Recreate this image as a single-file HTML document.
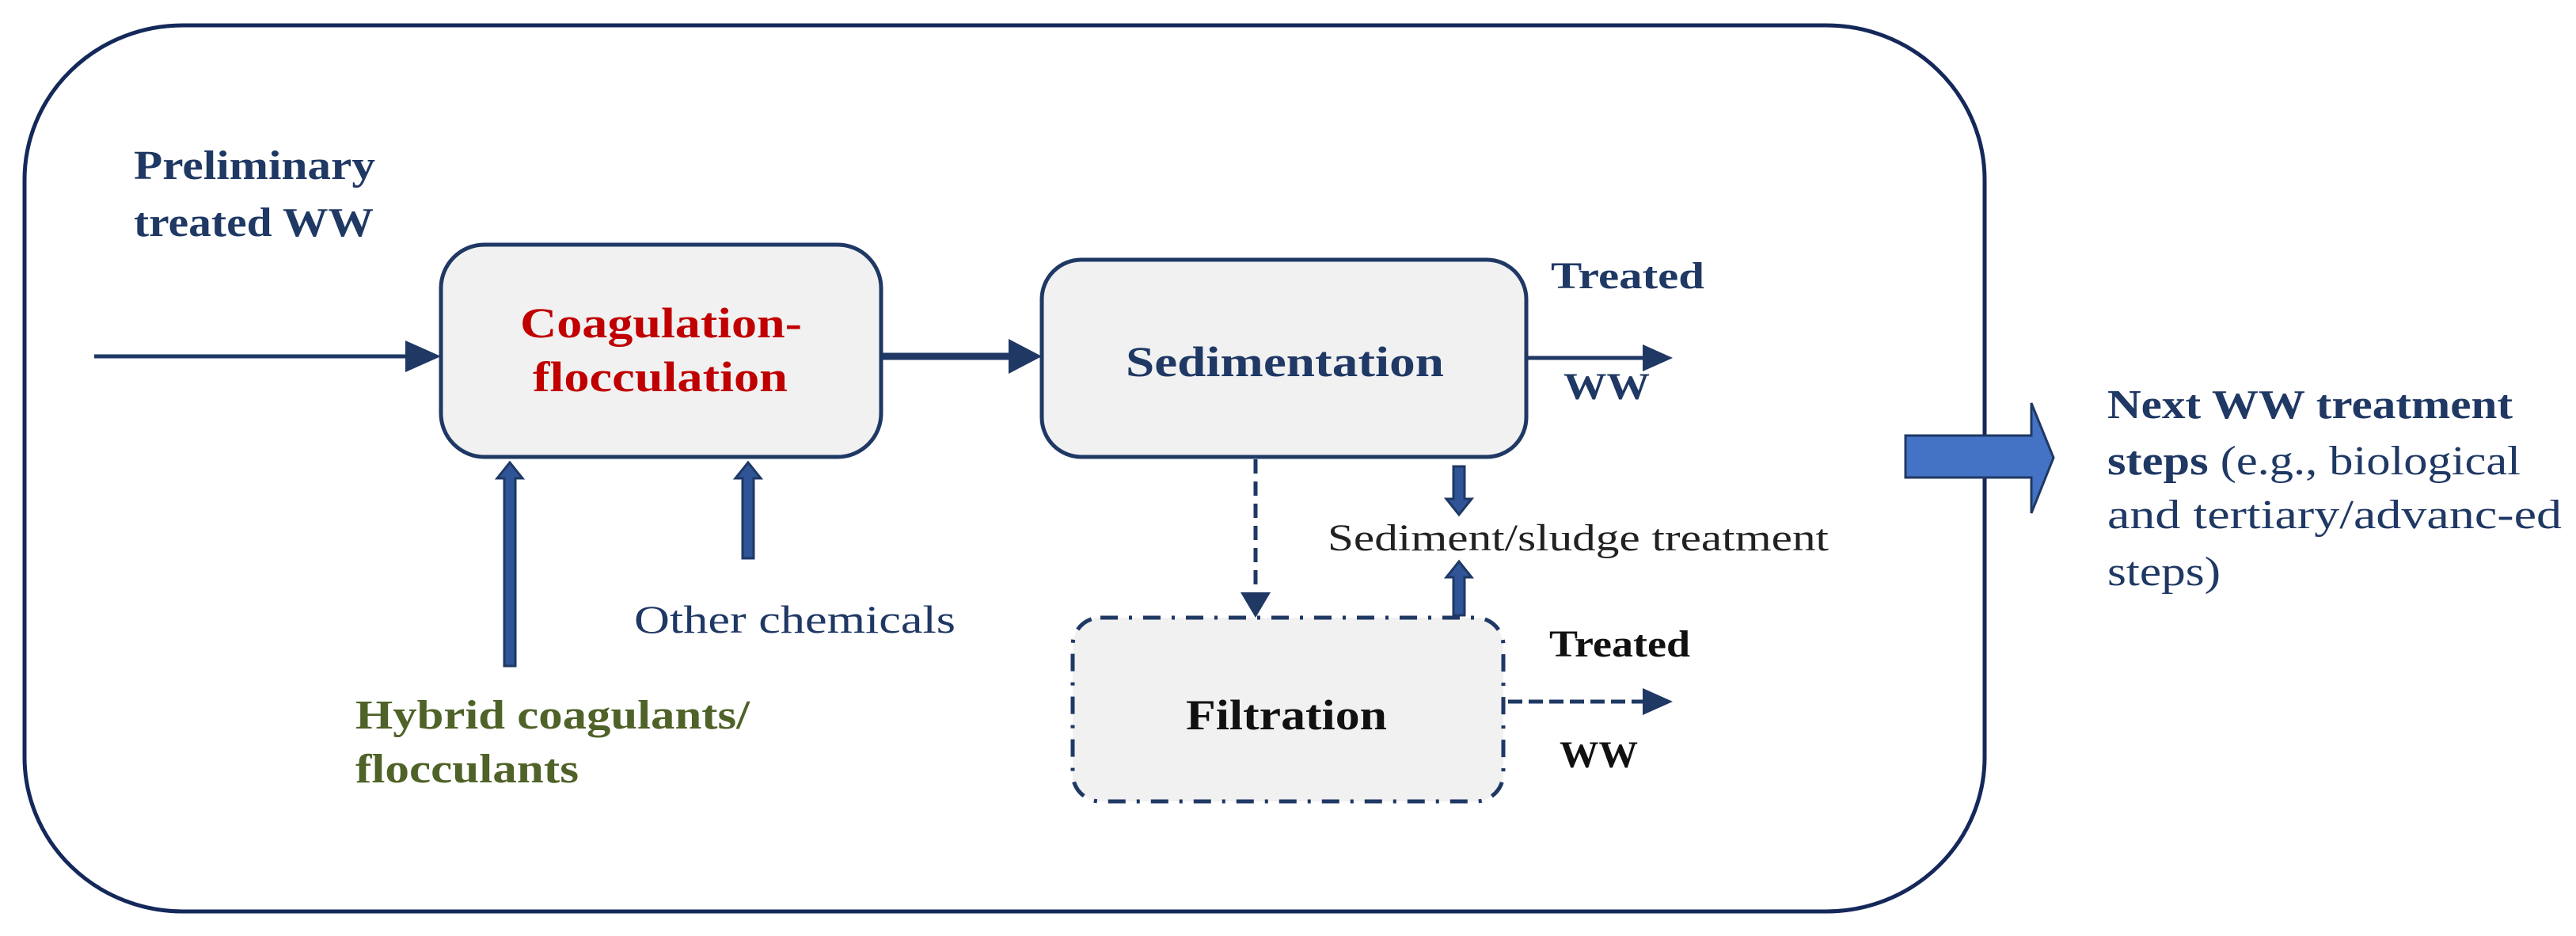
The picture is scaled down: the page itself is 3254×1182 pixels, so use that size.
<!DOCTYPE html>
<html><head><meta charset="utf-8"><style>
html,body{margin:0;padding:0;background:#fff;}
svg{display:block;}
text{font-family:"Liberation Serif",serif;}
</style></head><body>
<svg width="3254" height="1182" viewBox="0 0 3254 1182" xmlns="http://www.w3.org/2000/svg">
<rect x="31" y="32" width="2476" height="1119" rx="200" ry="195" fill="none" stroke="#14285a" stroke-width="5"/>
<text x="169" y="226" font-size="52" font-weight="bold" fill="#1f3864" textLength="305" lengthAdjust="spacingAndGlyphs">Preliminary</text>
<text x="169" y="298" font-size="52" font-weight="bold" fill="#1f3864" textLength="303" lengthAdjust="spacingAndGlyphs">treated WW</text>
<line x1="119" y1="450" x2="520" y2="450" stroke="#1f3864" stroke-width="5"/>
<path d="M512,430 L557,450 L512,470 z" fill="#1f3864"/>
<rect x="557" y="309" width="556" height="268" rx="55" fill="#f1f1f2" stroke="#1f3864" stroke-width="5"/>
<text x="657" y="426" font-size="54" font-weight="bold" fill="#c00000" textLength="356" lengthAdjust="spacingAndGlyphs">Coagulation-</text>
<text x="673" y="494" font-size="54" font-weight="bold" fill="#c00000" textLength="322" lengthAdjust="spacingAndGlyphs">flocculation</text>
<line x1="1113" y1="450" x2="1280" y2="450" stroke="#1f3864" stroke-width="9"/>
<path d="M1274,428 L1316,450 L1274,472 z" fill="#1f3864"/>
<rect x="1316" y="328" width="612" height="249" rx="50" fill="#f1f1f2" stroke="#1f3864" stroke-width="5"/>
<text x="1422" y="475" font-size="54" font-weight="bold" fill="#1f3864" textLength="402" lengthAdjust="spacingAndGlyphs">Sedimentation</text>
<text x="1959" y="364" font-size="48" font-weight="bold" fill="#1f3864" textLength="194" lengthAdjust="spacingAndGlyphs">Treated</text>
<text x="1975" y="504" font-size="48" font-weight="bold" fill="#1f3864" textLength="109" lengthAdjust="spacingAndGlyphs">WW</text>
<line x1="1928" y1="452" x2="2080" y2="452" stroke="#1f3864" stroke-width="5"/>
<path d="M2075,435 L2113,452 L2075,469 z" fill="#1f3864"/>
<g fill="#2f5597" stroke="#1f3864" stroke-width="3">
<path d="M637,841 L637,604 L628,604 L644,584 L660,604 L651,604 L651,841 z"/>
<path d="M938,705 L938,604 L929,604 L945,584 L961,604 L952,604 L952,705 z"/>
<path d="M1836,589 L1850,589 L1850,630 L1859,630 L1843,650 L1827,630 L1836,630 z"/>
<path d="M1836,777 L1836,729 L1827,729 L1843,709 L1859,729 L1850,729 L1850,777 z"/>
</g>
<text x="801" y="799" font-size="50" fill="#1f3864" textLength="406" lengthAdjust="spacingAndGlyphs">Other chemicals</text>
<text x="449" y="920" font-size="52" font-weight="bold" fill="#4f6228" textLength="498" lengthAdjust="spacingAndGlyphs">Hybrid coagulants/</text>
<text x="449" y="988" font-size="52" font-weight="bold" fill="#4f6228" textLength="282" lengthAdjust="spacingAndGlyphs">flocculants</text>
<line x1="1586" y1="580" x2="1586" y2="750" stroke="#1f3864" stroke-width="5" stroke-dasharray="18,10"/>
<path d="M1567,748 L1605,748 L1586,780 z" fill="#1f3864"/>
<rect x="1355" y="780" width="544" height="232" rx="35" fill="#f1f1f2" stroke="#1f3864" stroke-width="5" stroke-dasharray="22,14,4,14"/>
<text x="1498" y="921" font-size="54" font-weight="bold" fill="#111" textLength="254" lengthAdjust="spacingAndGlyphs">Filtration</text>
<text x="1677" y="695" font-size="48" fill="#222" textLength="633" lengthAdjust="spacingAndGlyphs">Sediment/sludge treatment</text>
<text x="1957" y="829" font-size="48" font-weight="bold" fill="#111" textLength="178" lengthAdjust="spacingAndGlyphs">Treated</text>
<text x="1970" y="969" font-size="48" font-weight="bold" fill="#111" textLength="99" lengthAdjust="spacingAndGlyphs">WW</text>
<line x1="1905" y1="886" x2="2078" y2="886" stroke="#1f3864" stroke-width="5" stroke-dasharray="18,8"/>
<path d="M2075,869 L2113,886 L2075,903 z" fill="#1f3864"/>
<path d="M2407,550 L2566,550 L2566,509 L2594,578 L2566,648 L2566,603 L2407,603 z" fill="#4472c4" stroke="#1f3864" stroke-width="3"/>
<text x="2662" y="528" font-size="52" font-weight="bold" fill="#1f3864" textLength="512" lengthAdjust="spacingAndGlyphs">Next WW treatment</text>
<text x="2662" y="599" font-size="52" fill="#1f3864" textLength="522" lengthAdjust="spacingAndGlyphs"><tspan font-weight="bold">steps</tspan> (e.g., biological</text>
<text x="2662" y="667" font-size="52" fill="#1f3864" textLength="574" lengthAdjust="spacingAndGlyphs">and tertiary/advanc-ed</text>
<text x="2662" y="739" font-size="52" fill="#1f3864" textLength="143" lengthAdjust="spacingAndGlyphs">steps)</text>
</svg>
</body></html>
